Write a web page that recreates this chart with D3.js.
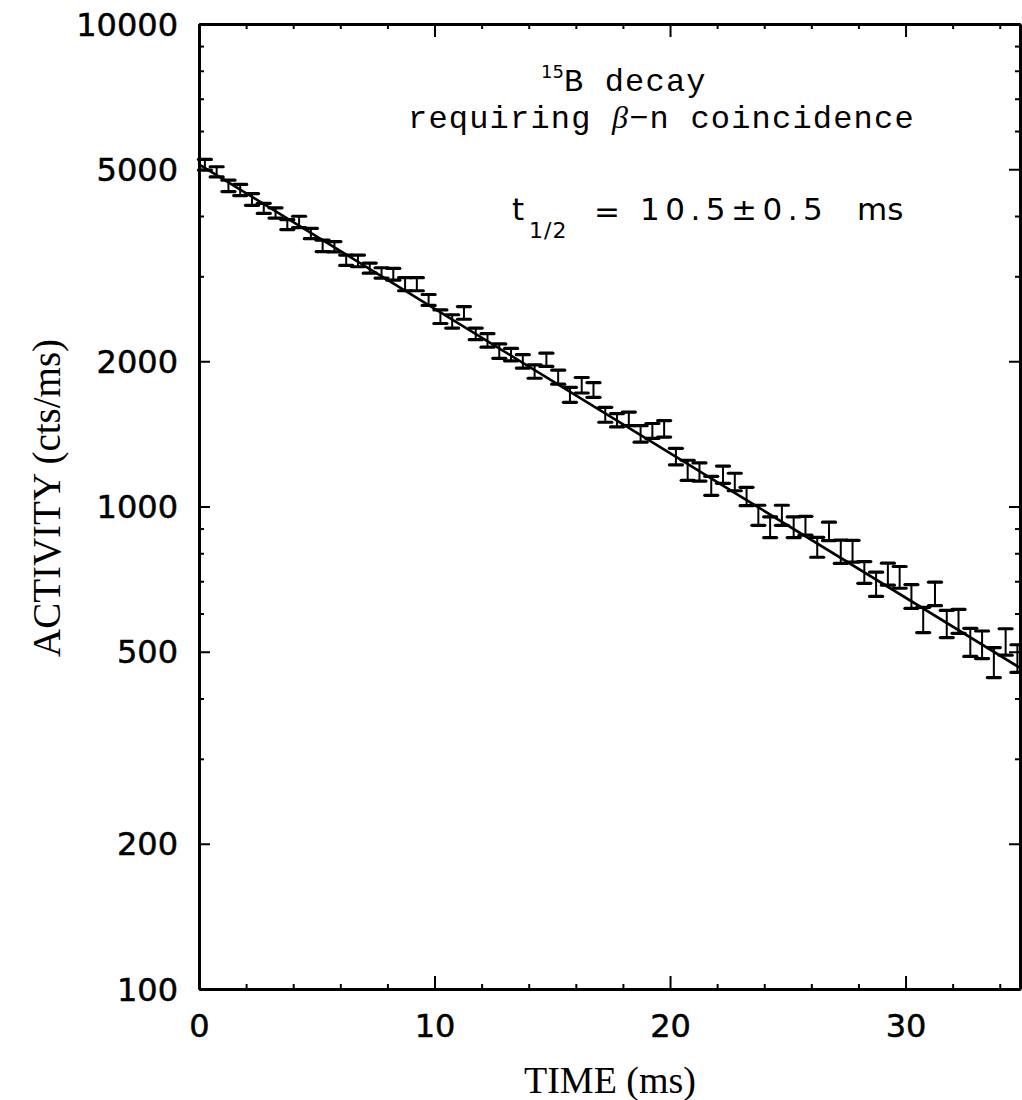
<!DOCTYPE html>
<html>
<head>
<meta charset="utf-8">
<script src="https://cdn.jsdelivr.net/npm/d3@7"></script>
<style>
  body { margin: 0; background: #fff; }
  .tick text { font-family: "DejaVu Sans", sans-serif; font-size: 32px; fill: #000; stroke: #000; stroke-width: 0.5px; }
</style>
</head>
<body>
<div id="chart"></div>
<script>
// bin centres (ms)
const times = [0.25, 0.75, 1.25, 1.75, 2.25, 2.75, 3.25, 3.75, 4.25, 4.75,
  5.25, 5.75, 6.25, 6.75, 7.25, 7.75, 8.25, 8.75, 9.25, 9.75,
  10.25, 10.75, 11.25, 11.75, 12.25, 12.75, 13.25, 13.75, 14.25, 14.75,
  15.25, 15.75, 16.25, 16.75, 17.25, 17.75, 18.25, 18.75, 19.25, 19.75,
  20.25, 20.75, 21.25, 21.75, 22.25, 22.75, 23.25, 23.75, 24.25, 24.75,
  25.25, 25.75, 26.25, 26.75, 27.25, 27.75, 28.25, 28.75, 29.25, 29.75,
  30.25, 30.75, 31.25, 31.75, 32.25, 32.75, 33.25, 33.75, 34.25, 34.75];
// activity (cts/ms)
const counts = [5110, 4940, 4620, 4530, 4330, 4150, 4060, 3840, 3890, 3680,
  3470, 3455, 3240, 3230, 3120, 3050, 3030, 2890, 2890, 2680,
  2475, 2420, 2520, 2280, 2210, 2100, 2065, 2000, 1905, 2015,
  1855, 1705, 1785, 1745, 1550, 1510, 1520, 1415, 1435, 1450,
  1270, 1190, 1180, 1105, 1165, 1125, 1050, 960, 907, 960,
  907, 913, 824, 889, 807, 809, 731, 691, 725, 714,
  652, 583, 660, 572, 579, 524, 518, 476, 525, 485];
const errors = [130, 120, 125, 120, 120, 100, 100, 90, 105, 90,
  95, 85, 80, 90, 75, 75, 85, 90, 90, 70,
  80, 77, 76, 63, 71, 72, 61, 64, 61, 64,
  62, 61, 66, 61, 55, 48, 49, 56, 51, 57,
  50, 57, 51, 50, 48, 47, 46, 46, 45, 46,
  45, 41, 39, 39, 45, 42, 38, 40, 38, 37,
  37, 35, 37, 37, 33, 35, 34, 34, 33, 32];
// fitted exponential, read at the two ends of the frame
const fitTimes = [0, 34.86];
const fitCounts = [5120, 463];

const yTickLabels = [100, 200, 500, 1000, 2000, 5000, 10000];
const xTickLabels = [0, 10, 20, 30];

let svg = d3.select("#chart")
  .append("svg")
  .attr("width", 1022)
  .attr("height", 1100);

let x = d3.scaleLinear().domain([0, 34.86]).range([199, 1020]);
let y = d3.scaleLog().domain([100, 10000]).range([989, 24]);

let yMinor = y.ticks().filter(v => !yTickLabels.includes(v));
let xMinor = d3.range(2, 35, 2).filter(v => v % 10 !== 0);

function styleAxis(g) {
  g.select(".domain").attr("stroke", "#000").attr("stroke-width", 2.8);
  g.selectAll(".tick line").attr("stroke", "#000").attr("stroke-width", 2);
}

/* ------------------ axes ------------------ */
svg.append("g")
  .attr("transform", "translate(199,0)")
  .call(d3.axisLeft(y).tickValues(yTickLabels).tickSize(-11).tickSizeOuter(0)
    .tickPadding(21).tickFormat(d3.format("d")))
  .call(styleAxis);
svg.append("g")
  .attr("transform", "translate(199,0)")
  .call(d3.axisLeft(y).tickValues(yMinor).tickSize(-5).tickSizeOuter(0).tickFormat(""))
  .call(styleAxis);
svg.append("g")
  .attr("transform", "translate(1020,0)")
  .call(d3.axisRight(y).tickValues(yTickLabels).tickSize(-11).tickSizeOuter(0).tickFormat(""))
  .call(styleAxis);
svg.append("g")
  .attr("transform", "translate(1020,0)")
  .call(d3.axisRight(y).tickValues(yMinor).tickSize(-5).tickSizeOuter(0).tickFormat(""))
  .call(styleAxis);

svg.append("g")
  .attr("transform", "translate(0,989)")
  .call(d3.axisBottom(x).tickValues(xTickLabels).tickSize(-13).tickSizeOuter(0).tickPadding(37))
  .call(styleAxis);
svg.append("g")
  .attr("transform", "translate(0,989)")
  .call(d3.axisBottom(x).tickValues(xMinor).tickSize(-5).tickSizeOuter(0).tickFormat(""))
  .call(styleAxis);
svg.append("g")
  .attr("transform", "translate(0,24)")
  .call(d3.axisTop(x).tickValues(xTickLabels).tickSize(-13).tickSizeOuter(0).tickFormat(""))
  .call(styleAxis);
svg.append("g")
  .attr("transform", "translate(0,24)")
  .call(d3.axisTop(x).tickValues(xMinor).tickSize(-5).tickSizeOuter(0).tickFormat(""))
  .call(styleAxis);

svg.selectAll(".tick text").attr("dy", null).attr("dominant-baseline", "central");

/* ------------------ error bars ------------------ */
let pts = times.map((t, i) => ({ t: t, c: counts[i], e: errors[i] }));
let bars = svg.append("g").attr("stroke", "#000").attr("stroke-linecap", "round");

bars.selectAll(".stem")
  .data(pts)
  .enter()
  .append("line")
  .attr("x1", d => x(d.t)).attr("x2", d => x(d.t))
  .attr("y1", d => y(d.c - d.e)).attr("y2", d => y(d.c + d.e))
  .attr("stroke-width", 2);

["lo", "hi"].forEach(k => {
  bars.selectAll(".cap-" + k)
    .data(pts)
    .enter()
    .append("line")
    .attr("x1", d => x(d.t) - 6.5).attr("x2", d => x(d.t) + 6.5)
    .attr("y1", d => y(k === "lo" ? d.c - d.e : d.c + d.e))
    .attr("y2", d => y(k === "lo" ? d.c - d.e : d.c + d.e))
    .attr("stroke-width", 3.2);
});

/* ------------------ fit ------------------ */
let fit = d3.line().x(d => x(d[0])).y(d => y(d[1]));
svg.append("path")
  .datum(fitTimes.map((t, i) => [t, fitCounts[i]]))
  .attr("d", fit)
  .attr("fill", "none")
  .attr("stroke", "#000")
  .attr("stroke-width", 2.6);

/* ------------------ labels ------------------ */
svg.append("text")
  .attr("x", 610).attr("y", 1093)
  .attr("text-anchor", "middle")
  .style("font-family", "'Liberation Serif', serif")
  .style("font-size", "38px")
  .text("TIME (ms)");

svg.append("text")
  .attr("transform", "translate(60,498) rotate(-90)")
  .attr("text-anchor", "middle")
  .style("font-family", "'Liberation Serif', serif")
  .style("font-size", "39px")
  .text("ACTIVITY (cts/ms)");

let mono = "'Liberation Mono', 'DejaVu Sans Mono', monospace";
let t1 = svg.append("text")
  .attr("x", 541).attr("y", 91)
  .style("font-family", mono)
  .style("font-size", "32px")
  .style("letter-spacing", "1.2px");
t1.append("tspan").attr("dy", -13).style("font-size", "18px").style("letter-spacing", "0px")
  .style("font-family", "'DejaVu Sans', sans-serif").text("15");
t1.append("tspan").attr("dy", 13).text("B decay");

let t2 = svg.append("text")
  .attr("x", 408).attr("y", 128)
  .style("font-family", mono)
  .style("font-size", "32px")
  .style("letter-spacing", "1.2px");
t2.append("tspan").text("requiring ");
t2.append("tspan").style("font-family", "'Liberation Serif', serif").style("font-style", "italic").text("β");
t2.append("tspan").text("−n coincidence");

let sans = "'DejaVu Sans', sans-serif";
let t3 = svg.append("g").style("font-family", sans).style("font-size", "31px");
t3.append("text").attr("x", 512).attr("y", 220).text("t");
t3.append("text").attr("x", 529).attr("y", 238).style("font-size", "22px").style("letter-spacing", "1px").text("1/2");
t3.append("text").attr("x", 594).attr("y", 222).text("=");
t3.append("text").attr("x", 640).attr("y", 220).style("letter-spacing", "5.5px").text("10.5±0.5");
t3.append("text").attr("x", 857).attr("y", 220).text("ms");
</script>
</body>
</html>
